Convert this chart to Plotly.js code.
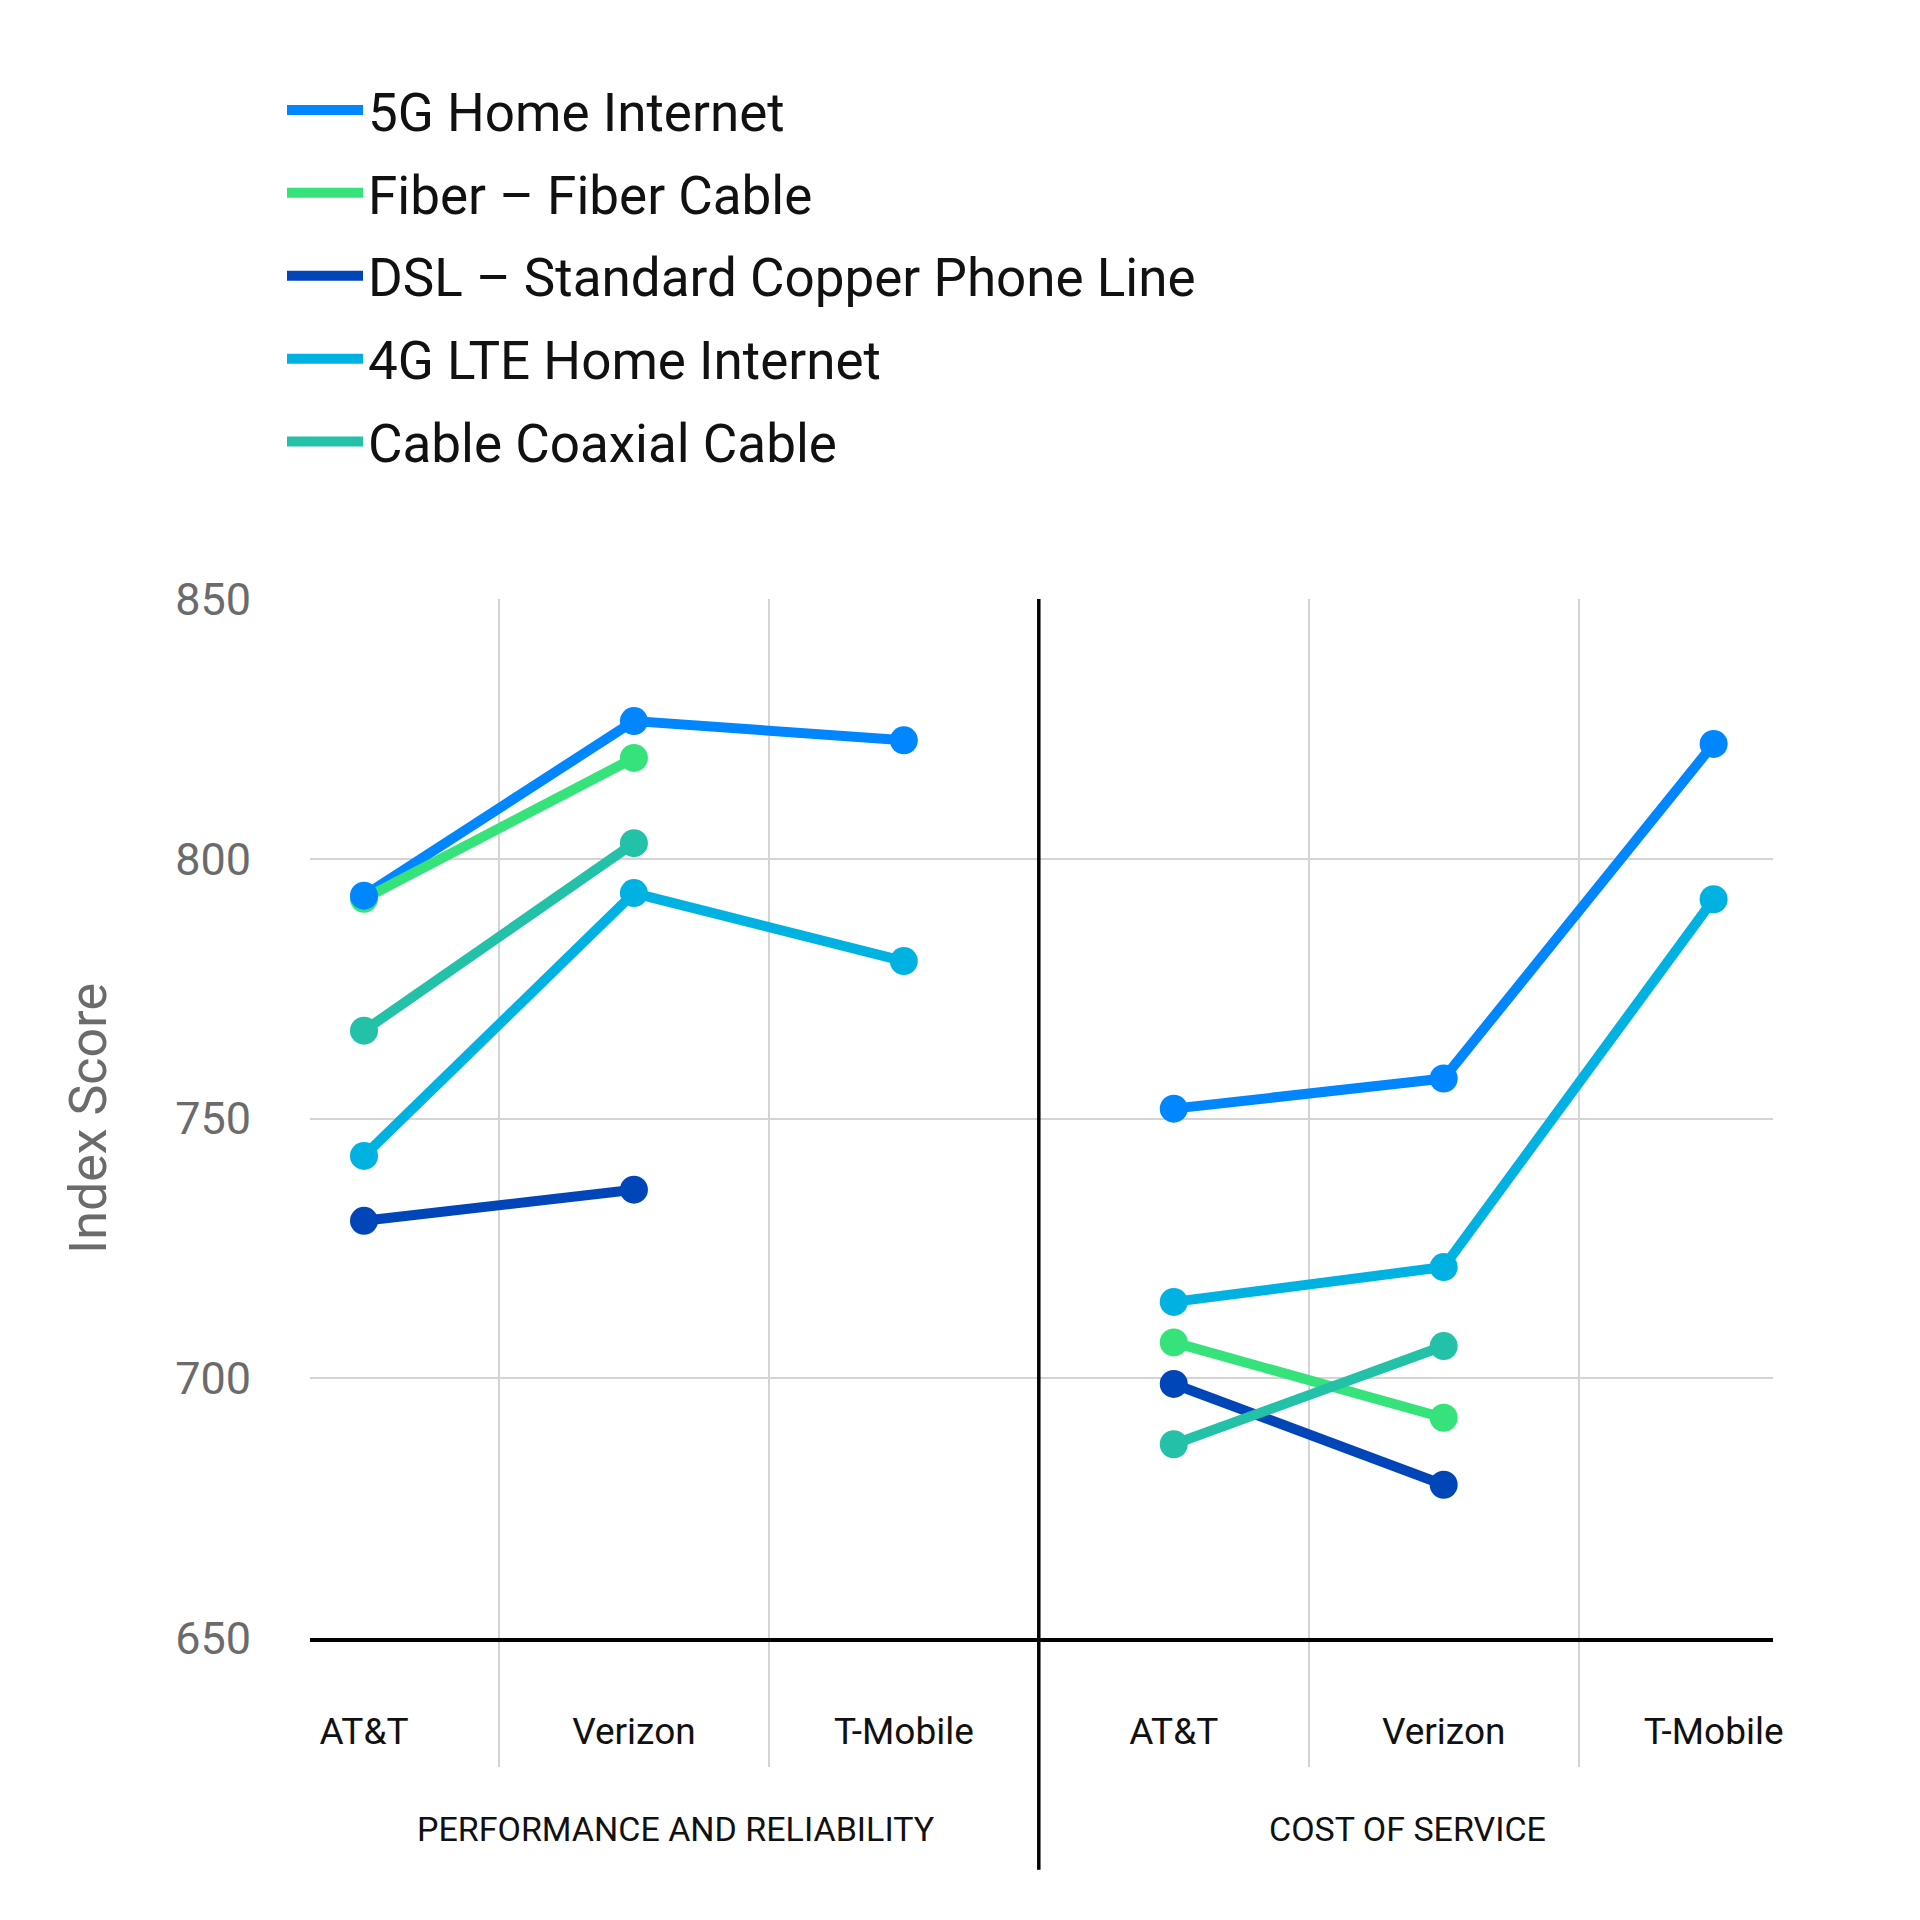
<!DOCTYPE html>
<html>
<head>
<meta charset="utf-8">
<script src="https://cdn.plot.ly/plotly-3.0.1.min.js"></script>
<style>html,body{margin:0;padding:0;background:#fff;}#chart{width:1920px;height:1920px;}</style>
</head>
<body>
<div id="chart"></div>
<script>
// ---- data ----
const groups = ["PERFORMANCE AND RELIABILITY", "COST OF SERVICE"];
const carriers = ["AT&T", "Verizon", "T-Mobile"];
const seriesNames = ["5G Home Internet", "Fiber – Fiber Cable", "DSL – Standard Copper Phone Line", "4G LTE Home Internet", "Cable Coaxial Cable"];
const seriesColors = ["#0086FF", "#35E37A", "#0046B8", "#00B2E2", "#23C1A7"];

const perf5G    = [792.9, 826.5, 822.8];
const cost5G    = [751.9, 757.7, 822.1];
const perfFiber = [792.3, 819.4, null];
const costFiber = [706.9, 692.4, null];
const perfDSL   = [730.3, 736.3, null];
const costDSL   = [698.9, 679.5, null];
const perf4G    = [742.8, 793.4, 780.3];
const cost4G    = [714.7, 721.4, 792.2];
const perfCable = [766.9, 803.0, null];
const costCable = [687.3, 706.2, null];

const yTicks = [650, 700, 750, 800, 850];

const seriesData = [
  [perf5G, cost5G],
  [perfFiber, costFiber],
  [perfDSL, costDSL],
  [perf4G, cost4G],
  [perfCable, costCable]
];

// category index positions (like a category axis), gap between groups
function buildXY(groupVals) {
  const xs = [], ys = [];
  groupVals.forEach((vals, g) => {
    if (g > 0) { xs.push(null); ys.push(null); }
    vals.forEach((v, i) => { xs.push(g * carriers.length + i); ys.push(v); });
  });
  return {xs, ys};
}

const lineTraces = [];
const markerTraces = [];
seriesData.forEach((gv, k) => {
  const {xs, ys} = buildXY(gv);
  lineTraces.push({
    type: "scatter", mode: "lines", x: xs, y: ys, name: seriesNames[k],
    legendgroup: "g" + k, connectgaps: false,
    line: {color: seriesColors[k], width: 10},
    hoverinfo: "skip"
  });
  markerTraces.push({
    type: "scatter", mode: "markers", x: xs, y: ys, name: seriesNames[k],
    legendgroup: "g" + k, showlegend: false,
    marker: {color: seriesColors[k], size: 28}
  });
});
const traces = lineTraces.concat(markerTraces.slice().reverse());

const tickVals = [], tickText = [];
groups.forEach((g, gi) => carriers.forEach((c, i) => { tickVals.push(gi * carriers.length + i); tickText.push(c); }));
const boundaryVals = [0.5, 1.5, 3.5, 4.5];
const dividerX = 2.5;

const plotW = 1920 - 310 - 147, plotH = 1920 - 599 - 282;

const layout = {
  width: 1920, height: 1920,
  paper_bgcolor: "#ffffff", plot_bgcolor: "#ffffff",
  font: {family: "Roboto, 'Noto Sans', sans-serif", color: "#111"},
  margin: {l: 310, r: 147, t: 599, b: 282},
  showlegend: true,
  legend: {
    xref: "paper", yref: "paper",
    x: (282 - 310) / plotW, y: 1 + (599 - 69) / plotH, xanchor: "left", yanchor: "top",
    font: {size: 53, color: "#111", family: "Roboto"},
    itemwidth: 76, traceorder: "grouped", tracegroupgap: 11,
    bgcolor: "rgba(0,0,0,0)", borderwidth: 0
  },
  xaxis: {
    type: "linear", range: [-0.2, 5.22],
    tickmode: "array", tickvals: tickVals, ticktext: tickText, tickangle: 0,
    ticks: "", ticklabelstandoff: 58,
    tickfont: {size: 37, color: "#111", family: "Roboto"},
    showgrid: false, zeroline: false,
    showline: true, linecolor: "#000", linewidth: 4,
    minor: {tickmode: "array", tickvals: boundaryVals, ticks: "outside", ticklen: 125, tickwidth: 1.5, tickcolor: "#d4d4d4",
            showgrid: true, gridcolor: "#d4d4d4", gridwidth: 1.5}
  },
  yaxis: {
    range: [650, 850], tickmode: "array", tickvals: yTicks,
    ticks: "outside", ticklen: 49, tickcolor: "rgba(0,0,0,0)",
    tickfont: {size: 45, color: "#6b6b6b", family: "Roboto"},
    showgrid: true, gridcolor: "#d4d4d4", gridwidth: 1.5,
    zeroline: false, showline: false,
    title: {text: "Index Score", font: {size: 52, color: "#6b6b6b", family: "Roboto"}, standoff: 51}
  },
  shapes: [{
    type: "line", xref: "x", yref: "paper", x0: dividerX, x1: dividerX, y0: -0.223, y1: 1,
    line: {color: "#000", width: 3.5}, layer: "above"
  }],
  annotations: groups.map((g, gi) => ({
    text: g, xref: "paper", yref: "paper", x: gi === 0 ? 0.25 : 0.75, y: -0.184,
    xanchor: "center", yanchor: "middle", showarrow: false,
    font: {size: 34, color: "#111", family: "Roboto"}
  }))
};

Plotly.newPlot("chart", traces, layout, {displayModeBar: false, responsive: false});
</script>
</body>
</html>
